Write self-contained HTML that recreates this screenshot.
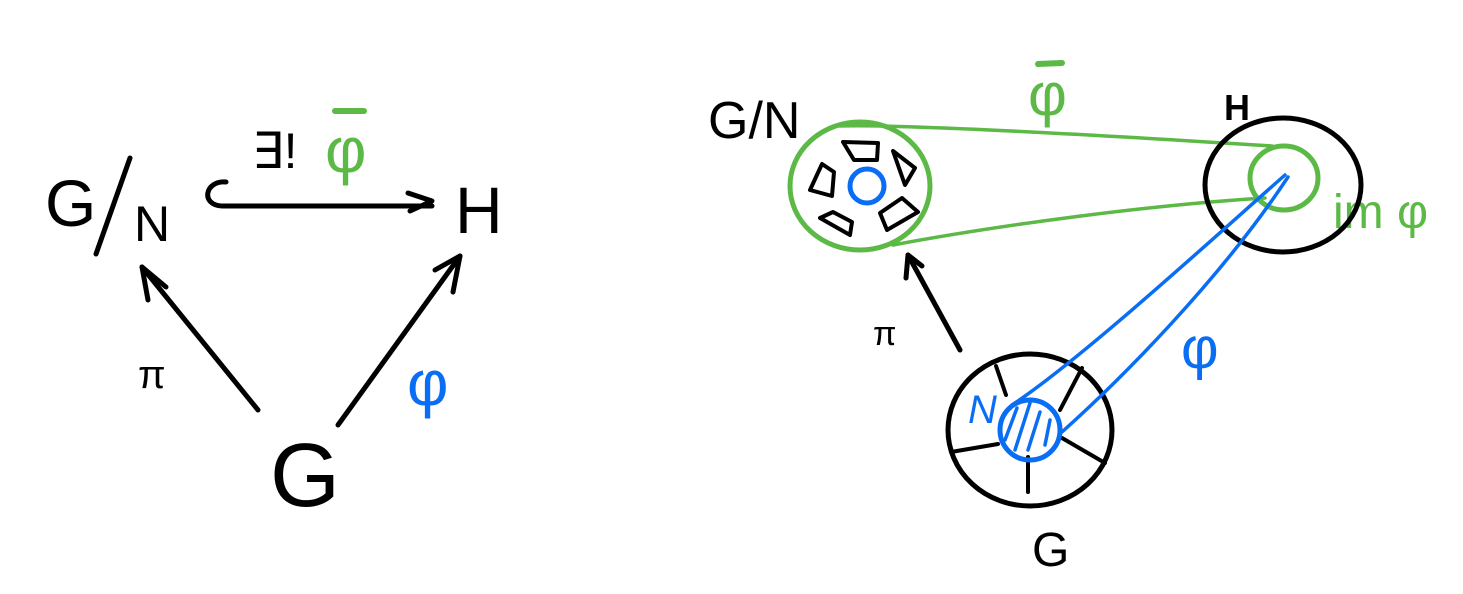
<!DOCTYPE html>
<html><head><meta charset="utf-8"><style>
html,body{margin:0;padding:0;background:#fff;}
svg{display:block;}
text{font-family:"Liberation Sans","DejaVu Sans",sans-serif;}
</style></head><body>
<svg width="1463" height="594" viewBox="0 0 1463 594" xmlns="http://www.w3.org/2000/svg" fill="none" stroke-linecap="round" stroke-linejoin="round">
<!-- LEFT DIAGRAM -->
<g fill="#000" stroke="none">
<text x="45" y="226" font-size="66">G</text>
<text x="134" y="241" font-size="50">N</text>
<text x="455" y="233" font-size="66">H</text>
<text x="270" y="506" font-size="90">G</text>
<text x="252" y="168" font-size="50">∃!</text>
<text x="138" y="388" font-size="40">π</text>
</g>
<line x1="96" y1="254" x2="130" y2="158" stroke="#000" stroke-width="5"/>
<path d="M226,182 C205,180 200,205 222,206 L432,206" stroke="#000" stroke-width="5"/>
<path d="M408,193 L432,201 L410,211" stroke="#000" stroke-width="5"/>
<line x1="258" y1="410" x2="142" y2="267" stroke="#000" stroke-width="5"/>
<path d="M148,300 L142,267 L166,287" stroke="#000" stroke-width="5"/>
<line x1="338" y1="425" x2="460" y2="256" stroke="#000" stroke-width="5"/>
<path d="M435,270 L460,256 L453,292" stroke="#000" stroke-width="5"/>
<text x="325" y="172" font-size="64" fill="#5cb946" stroke="none">φ</text>
<line x1="335" y1="111" x2="364" y2="111" stroke="#5cb946" stroke-width="6"/>
<text x="407" y="405" font-size="64" fill="#0a6ef5" stroke="none">φ</text>

<!-- RIGHT DIAGRAM -->
<text x="708" y="138" font-size="52" fill="#000">G/N</text>
<text x="1224" y="120" font-size="36" fill="#000" font-weight="bold">H</text>
<text x="1032" y="566" font-size="48" fill="#000">G</text>
<text x="873" y="345" font-size="34" fill="#000">π</text>
<text x="1028" y="115" font-size="60" fill="#5cb946">φ</text>
<line x1="1038" y1="64" x2="1062" y2="63" stroke="#5cb946" stroke-width="6"/>
<text x="1333" y="228" font-size="48" fill="#5cb946">im φ</text>
<text x="1181" y="368" font-size="58" fill="#0a6ef5">φ</text>

<!-- G/N circle -->
<ellipse cx="860" cy="186" rx="70" ry="64" stroke="#5cb946" stroke-width="5"/>
<circle cx="867" cy="186" r="17" stroke="#0a6ef5" stroke-width="5"/>
<g stroke="#000" stroke-width="4">
<path d="M843,142 L854,160 L877,160 L878,143 Z"/>
<path d="M893,151 L905,185 L915,168 Z"/>
<path d="M822,164 L810,190 L832,196 L834,172 Z"/>
<path d="M820,218 L850,235 L852,222 L833,212 Z"/>
<path d="M880,213 L887,230 L918,212 L902,198 Z"/>
</g>
<path d="M840,126 C900,124 1100,135 1272,146" stroke="#5cb946" stroke-width="3.5"/>
<path d="M893,245 C1000,225 1150,205 1265,198" stroke="#5cb946" stroke-width="3.5"/>

<!-- H circle -->
<ellipse cx="1283" cy="185" rx="78" ry="67" stroke="#000" stroke-width="5"/>
<ellipse cx="1284" cy="178" rx="34" ry="32" stroke="#5cb946" stroke-width="5"/>

<!-- pi arrow -->
<line x1="960" y1="350" x2="908" y2="255" stroke="#000" stroke-width="5"/>
<path d="M906,278 L908,255 L922,266" stroke="#000" stroke-width="5"/>

<!-- G circle -->
<ellipse cx="1030" cy="430" rx="82" ry="76" stroke="#000" stroke-width="5"/>
<g stroke="#000" stroke-width="4">
<line x1="996" y1="366" x2="1006" y2="395"/>
<line x1="1082" y1="368" x2="1060" y2="410"/>
<line x1="951" y1="452" x2="998" y2="444"/>
<line x1="1062" y1="438" x2="1105" y2="463"/>
<line x1="1028" y1="457" x2="1028" y2="492"/>
</g>
<circle cx="1030" cy="430" r="30" stroke="#0a6ef5" stroke-width="5"/>
<g stroke="#0a6ef5" stroke-width="3.5">
<line x1="1017" y1="408" x2="1005" y2="440"/>
<line x1="1030" y1="403" x2="1015" y2="450"/>
<line x1="1040" y1="412" x2="1028" y2="450"/>
<line x1="1050" y1="420" x2="1045" y2="445"/>
</g>
<text x="968" y="423" font-size="40" fill="#0a6ef5" font-style="italic">N</text>
<path d="M1012,405 C1080,360 1200,250 1285,175" stroke="#0a6ef5" stroke-width="3.5"/>
<path d="M1062,432 C1120,380 1220,280 1288,177" stroke="#0a6ef5" stroke-width="3.5"/>
</svg>
</body></html>
